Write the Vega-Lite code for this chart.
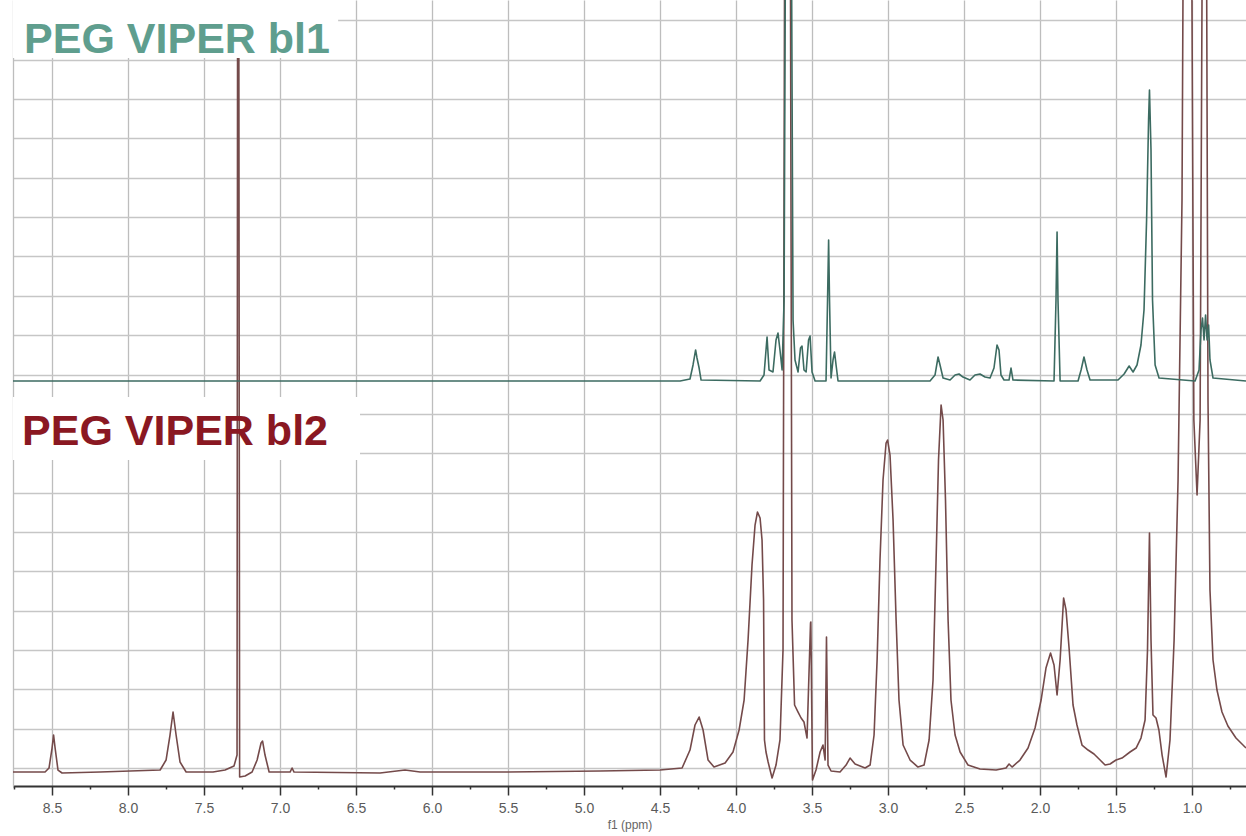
{
  "$schema": "https://vega.github.io/schema/vega-lite/v6.json",
  "width": 1233,
  "height": 786,
  "autosize": {"type": "none"},
  "padding": {"left": 13, "top": 0, "right": 0, "bottom": 50},
  "background": "white",
  "config": {
    "view": {"stroke": null},
    "font": "Liberation Sans",
    "axisX": {
      "titleFont": "Liberation Sans",
      "titleFontSize": 12,
      "titleFontWeight": "normal",
      "titleColor": "#666666",
      "titlePadding": 4,
      "labelOverlap": false,
      "labelFlush": false,
      "labelFont": "Liberation Sans",
      "labelFontSize": 14,
      "labelColor": "#5a5a5a",
      "labelPadding": 6,
      "domainColor": "#333333",
      "domainWidth": 2,
      "tickColor": "#333333",
      "tickWidth": 1.5,
      "grid": true,
      "gridColor": "#bdbdbd",
      "gridWidth": 1.3
    },
    "axisY": {
      "labels": false,
      "ticks": false,
      "domain": true,
      "domainColor": "#bdbdbd",
      "domainWidth": 1.3,
      "grid": true,
      "gridColor": "#c6c6c6",
      "gridWidth": 1.3
    }
  },
  "layer": [
    {
      "data": {"values": [{}]},
      "mark": {"type": "rect", "fill": "white", "clip": true},
      "encoding": {
        "x": {"datum": 8.757, "type": "quantitative", "scale": {"domain": [0.645, 8.757], "reverse": true, "nice": false, "zero": false},
              "axis": {"title": "f1 (ppm)", "values": [0.75, 1.0, 1.25, 1.5, 1.75, 2.0, 2.25, 2.5, 2.75, 3.0, 3.25, 3.5, 3.75, 4.0, 4.25, 4.5, 4.75, 5.0, 5.25, 5.5, 5.75, 6.0, 6.25, 6.5, 6.75, 7.0, 7.25, 7.5, 7.75, 8.0, 8.25, 8.5, 8.75],
                       "labelExpr": "abs(datum.value*2 - round(datum.value*2)) < 0.001 ? format(datum.value, '.1f') : ''",
                       "tickSize": {"condition": {"test": "abs(datum.value*2 - round(datum.value*2)) < 0.001", "value": 9}, "value": 3},
                       "gridOpacity": {"condition": {"test": "abs(datum.value*2 - round(datum.value*2)) < 0.001", "value": 1}, "value": 0}}},
        "x2": {"datum": 6.474},
        "y": {"datum": 9.428, "type": "quantitative", "scale": {"domain": [-0.457, 19.517], "nice": false, "zero": false},
              "axis": {"title": null, "values": [0, 1, 2, 3, 4, 5, 6, 7, 8, 9, 10, 11, 12, 13, 14, 15, 16, 17, 18, 19]}},
        "y2": {"datum": 7.827}
      }
    },
    {
      "data": {"values": [
        {"s": "bl2", "ppm": 8.757, "i": -0.102},
        {"s": "bl2", "ppm": 8.546, "i": -0.102},
        {"s": "bl2", "ppm": 8.520, "i": 0.0},
        {"s": "bl2", "ppm": 8.500, "i": 0.508},
        {"s": "bl2", "ppm": 8.490, "i": 0.839},
        {"s": "bl2", "ppm": 8.480, "i": 0.508},
        {"s": "bl2", "ppm": 8.461, "i": -0.051},
        {"s": "bl2", "ppm": 8.434, "i": -0.127},
        {"s": "bl2", "ppm": 8.184, "i": -0.102},
        {"s": "bl2", "ppm": 7.789, "i": -0.051},
        {"s": "bl2", "ppm": 7.750, "i": 0.203},
        {"s": "bl2", "ppm": 7.724, "i": 0.839},
        {"s": "bl2", "ppm": 7.704, "i": 1.423},
        {"s": "bl2", "ppm": 7.684, "i": 0.839},
        {"s": "bl2", "ppm": 7.658, "i": 0.152},
        {"s": "bl2", "ppm": 7.618, "i": -0.102},
        {"s": "bl2", "ppm": 7.441, "i": -0.102},
        {"s": "bl2", "ppm": 7.362, "i": -0.051},
        {"s": "bl2", "ppm": 7.303, "i": 0.051},
        {"s": "bl2", "ppm": 7.283, "i": 0.330},
        {"s": "bl2", "ppm": 7.2783, "i": 25},
        {"s": "bl2", "ppm": 7.2730, "i": 25},
        {"s": "bl2", "ppm": 7.266, "i": -0.229},
        {"s": "bl2", "ppm": 7.230, "i": -0.203},
        {"s": "bl2", "ppm": 7.184, "i": -0.102},
        {"s": "bl2", "ppm": 7.151, "i": 0.203},
        {"s": "bl2", "ppm": 7.125, "i": 0.635},
        {"s": "bl2", "ppm": 7.115, "i": 0.686},
        {"s": "bl2", "ppm": 7.099, "i": 0.330},
        {"s": "bl2", "ppm": 7.072, "i": -0.102},
        {"s": "bl2", "ppm": 6.934, "i": -0.102},
        {"s": "bl2", "ppm": 6.921, "i": 0.0},
        {"s": "bl2", "ppm": 6.908, "i": -0.102},
        {"s": "bl2", "ppm": 6.342, "i": -0.127},
        {"s": "bl2", "ppm": 6.178, "i": -0.051},
        {"s": "bl2", "ppm": 6.079, "i": -0.102},
        {"s": "bl2", "ppm": 5.553, "i": -0.102},
        {"s": "bl2", "ppm": 4.895, "i": -0.076},
        {"s": "bl2", "ppm": 4.500, "i": -0.051},
        {"s": "bl2", "ppm": 4.355, "i": 0.0},
        {"s": "bl2", "ppm": 4.303, "i": 0.457},
        {"s": "bl2", "ppm": 4.270, "i": 1.093},
        {"s": "bl2", "ppm": 4.243, "i": 1.296},
        {"s": "bl2", "ppm": 4.217, "i": 0.966},
        {"s": "bl2", "ppm": 4.184, "i": 0.203},
        {"s": "bl2", "ppm": 4.145, "i": 0.025},
        {"s": "bl2", "ppm": 4.072, "i": 0.127},
        {"s": "bl2", "ppm": 4.020, "i": 0.407},
        {"s": "bl2", "ppm": 3.980, "i": 0.966},
        {"s": "bl2", "ppm": 3.947, "i": 1.728},
        {"s": "bl2", "ppm": 3.921, "i": 3.253},
        {"s": "bl2", "ppm": 3.895, "i": 5.159},
        {"s": "bl2", "ppm": 3.875, "i": 6.175},
        {"s": "bl2", "ppm": 3.859, "i": 6.506},
        {"s": "bl2", "ppm": 3.842, "i": 6.353},
        {"s": "bl2", "ppm": 3.829, "i": 5.794},
        {"s": "bl2", "ppm": 3.819, "i": 4.269},
        {"s": "bl2", "ppm": 3.813, "i": 0.712},
        {"s": "bl2", "ppm": 3.803, "i": 0.407},
        {"s": "bl2", "ppm": 3.789, "i": 0.152},
        {"s": "bl2", "ppm": 3.763, "i": -0.254},
        {"s": "bl2", "ppm": 3.737, "i": 0.076},
        {"s": "bl2", "ppm": 3.711, "i": 0.712},
        {"s": "bl2", "ppm": 3.691, "i": 2.999},
        {"s": "bl2", "ppm": 3.678, "i": 25},
        {"s": "bl2", "ppm": 3.645, "i": 25},
        {"s": "bl2", "ppm": 3.632, "i": 3.761},
        {"s": "bl2", "ppm": 3.615, "i": 1.601},
        {"s": "bl2", "ppm": 3.592, "i": 1.423},
        {"s": "bl2", "ppm": 3.572, "i": 1.271},
        {"s": "bl2", "ppm": 3.553, "i": 1.169},
        {"s": "bl2", "ppm": 3.533, "i": 0.762},
        {"s": "bl2", "ppm": 3.510, "i": 3.685},
        {"s": "bl2", "ppm": 3.508, "i": 3.710},
        {"s": "bl2", "ppm": 3.497, "i": -0.305},
        {"s": "bl2", "ppm": 3.474, "i": -0.051},
        {"s": "bl2", "ppm": 3.447, "i": 0.407},
        {"s": "bl2", "ppm": 3.428, "i": 0.584},
        {"s": "bl2", "ppm": 3.414, "i": 0.203},
        {"s": "bl2", "ppm": 3.405, "i": 3.329},
        {"s": "bl2", "ppm": 3.395, "i": 0.076},
        {"s": "bl2", "ppm": 3.375, "i": -0.076},
        {"s": "bl2", "ppm": 3.316, "i": -0.102},
        {"s": "bl2", "ppm": 3.276, "i": 0.076},
        {"s": "bl2", "ppm": 3.250, "i": 0.254},
        {"s": "bl2", "ppm": 3.217, "i": 0.102},
        {"s": "bl2", "ppm": 3.151, "i": 0.0},
        {"s": "bl2", "ppm": 3.118, "i": 0.076},
        {"s": "bl2", "ppm": 3.092, "i": 0.839},
        {"s": "bl2", "ppm": 3.072, "i": 2.745},
        {"s": "bl2", "ppm": 3.053, "i": 5.286},
        {"s": "bl2", "ppm": 3.033, "i": 7.319},
        {"s": "bl2", "ppm": 3.013, "i": 8.259},
        {"s": "bl2", "ppm": 3.003, "i": 8.335},
        {"s": "bl2", "ppm": 2.987, "i": 7.954},
        {"s": "bl2", "ppm": 2.967, "i": 6.302},
        {"s": "bl2", "ppm": 2.947, "i": 3.761},
        {"s": "bl2", "ppm": 2.928, "i": 1.728},
        {"s": "bl2", "ppm": 2.901, "i": 0.584},
        {"s": "bl2", "ppm": 2.855, "i": 0.203},
        {"s": "bl2", "ppm": 2.803, "i": 0.025},
        {"s": "bl2", "ppm": 2.763, "i": 0.076},
        {"s": "bl2", "ppm": 2.730, "i": 0.712},
        {"s": "bl2", "ppm": 2.704, "i": 2.236},
        {"s": "bl2", "ppm": 2.684, "i": 5.286},
        {"s": "bl2", "ppm": 2.668, "i": 7.827},
        {"s": "bl2", "ppm": 2.651, "i": 9.225},
        {"s": "bl2", "ppm": 2.638, "i": 8.844},
        {"s": "bl2", "ppm": 2.622, "i": 6.811},
        {"s": "bl2", "ppm": 2.605, "i": 3.761},
        {"s": "bl2", "ppm": 2.586, "i": 1.728},
        {"s": "bl2", "ppm": 2.559, "i": 0.839},
        {"s": "bl2", "ppm": 2.526, "i": 0.407},
        {"s": "bl2", "ppm": 2.474, "i": 0.076},
        {"s": "bl2", "ppm": 2.395, "i": -0.025},
        {"s": "bl2", "ppm": 2.289, "i": -0.051},
        {"s": "bl2", "ppm": 2.224, "i": 0.0},
        {"s": "bl2", "ppm": 2.204, "i": 0.102},
        {"s": "bl2", "ppm": 2.184, "i": 0.025},
        {"s": "bl2", "ppm": 2.132, "i": 0.203},
        {"s": "bl2", "ppm": 2.079, "i": 0.508},
        {"s": "bl2", "ppm": 2.033, "i": 1.017},
        {"s": "bl2", "ppm": 1.993, "i": 1.728},
        {"s": "bl2", "ppm": 1.961, "i": 2.541},
        {"s": "bl2", "ppm": 1.931, "i": 2.922},
        {"s": "bl2", "ppm": 1.908, "i": 2.618},
        {"s": "bl2", "ppm": 1.888, "i": 1.855},
        {"s": "bl2", "ppm": 1.868, "i": 2.745},
        {"s": "bl2", "ppm": 1.845, "i": 4.320},
        {"s": "bl2", "ppm": 1.829, "i": 4.015},
        {"s": "bl2", "ppm": 1.809, "i": 3.050},
        {"s": "bl2", "ppm": 1.783, "i": 1.601},
        {"s": "bl2", "ppm": 1.757, "i": 1.093},
        {"s": "bl2", "ppm": 1.724, "i": 0.584},
        {"s": "bl2", "ppm": 1.684, "i": 0.457},
        {"s": "bl2", "ppm": 1.645, "i": 0.356},
        {"s": "bl2", "ppm": 1.605, "i": 0.203},
        {"s": "bl2", "ppm": 1.572, "i": 0.076},
        {"s": "bl2", "ppm": 1.539, "i": 0.102},
        {"s": "bl2", "ppm": 1.500, "i": 0.203},
        {"s": "bl2", "ppm": 1.461, "i": 0.254},
        {"s": "bl2", "ppm": 1.408, "i": 0.407},
        {"s": "bl2", "ppm": 1.368, "i": 0.508},
        {"s": "bl2", "ppm": 1.336, "i": 0.762},
        {"s": "bl2", "ppm": 1.309, "i": 1.220},
        {"s": "bl2", "ppm": 1.293, "i": 2.999},
        {"s": "bl2", "ppm": 1.280, "i": 5.972},
        {"s": "bl2", "ppm": 1.270, "i": 3.253},
        {"s": "bl2", "ppm": 1.257, "i": 1.347},
        {"s": "bl2", "ppm": 1.237, "i": 1.271},
        {"s": "bl2", "ppm": 1.218, "i": 0.966},
        {"s": "bl2", "ppm": 1.197, "i": 0.330},
        {"s": "bl2", "ppm": 1.171, "i": -0.229},
        {"s": "bl2", "ppm": 1.145, "i": 0.712},
        {"s": "bl2", "ppm": 1.118, "i": 3.253},
        {"s": "bl2", "ppm": 1.092, "i": 7.319},
        {"s": "bl2", "ppm": 1.066, "i": 14.434},
        {"s": "bl2", "ppm": 1.053, "i": 25},
        {"s": "bl2", "ppm": 1.007, "i": 25},
        {"s": "bl2", "ppm": 0.988, "i": 8.844},
        {"s": "bl2", "ppm": 0.967, "i": 6.938},
        {"s": "bl2", "ppm": 0.947, "i": 8.844},
        {"s": "bl2", "ppm": 0.928, "i": 25},
        {"s": "bl2", "ppm": 0.908, "i": 25},
        {"s": "bl2", "ppm": 0.895, "i": 9.352},
        {"s": "bl2", "ppm": 0.882, "i": 4.523},
        {"s": "bl2", "ppm": 0.862, "i": 2.745},
        {"s": "bl2", "ppm": 0.836, "i": 1.982},
        {"s": "bl2", "ppm": 0.803, "i": 1.423},
        {"s": "bl2", "ppm": 0.764, "i": 1.067},
        {"s": "bl2", "ppm": 0.711, "i": 0.762},
        {"s": "bl2", "ppm": 0.645, "i": 0.508},

        {"s": "bl1", "ppm": 8.757, "i": 9.835},
        {"s": "bl1", "ppm": 4.368, "i": 9.835},
        {"s": "bl1", "ppm": 4.303, "i": 9.886},
        {"s": "bl1", "ppm": 4.283, "i": 10.242},
        {"s": "bl1", "ppm": 4.266, "i": 10.623},
        {"s": "bl1", "ppm": 4.257, "i": 10.420},
        {"s": "bl1", "ppm": 4.243, "i": 10.165},
        {"s": "bl1", "ppm": 4.230, "i": 9.860},
        {"s": "bl1", "ppm": 3.842, "i": 9.835},
        {"s": "bl1", "ppm": 3.816, "i": 9.987},
        {"s": "bl1", "ppm": 3.796, "i": 10.953},
        {"s": "bl1", "ppm": 3.783, "i": 10.114},
        {"s": "bl1", "ppm": 3.757, "i": 10.064},
        {"s": "bl1", "ppm": 3.737, "i": 10.877},
        {"s": "bl1", "ppm": 3.724, "i": 11.055},
        {"s": "bl1", "ppm": 3.711, "i": 10.623},
        {"s": "bl1", "ppm": 3.697, "i": 10.114},
        {"s": "bl1", "ppm": 3.684, "i": 11.893},
        {"s": "bl1", "ppm": 3.671, "i": 25},
        {"s": "bl1", "ppm": 3.640, "i": 25},
        {"s": "bl1", "ppm": 3.625, "i": 11.385},
        {"s": "bl1", "ppm": 3.612, "i": 10.369},
        {"s": "bl1", "ppm": 3.592, "i": 10.064},
        {"s": "bl1", "ppm": 3.576, "i": 10.674},
        {"s": "bl1", "ppm": 3.566, "i": 10.724},
        {"s": "bl1", "ppm": 3.553, "i": 10.114},
        {"s": "bl1", "ppm": 3.539, "i": 10.064},
        {"s": "bl1", "ppm": 3.523, "i": 10.877},
        {"s": "bl1", "ppm": 3.513, "i": 10.979},
        {"s": "bl1", "ppm": 3.500, "i": 10.064},
        {"s": "bl1", "ppm": 3.480, "i": 9.835},
        {"s": "bl1", "ppm": 3.408, "i": 9.835},
        {"s": "bl1", "ppm": 3.398, "i": 11.893},
        {"s": "bl1", "ppm": 3.391, "i": 13.418},
        {"s": "bl1", "ppm": 3.385, "i": 11.893},
        {"s": "bl1", "ppm": 3.375, "i": 9.911},
        {"s": "bl1", "ppm": 3.362, "i": 10.369},
        {"s": "bl1", "ppm": 3.352, "i": 10.572},
        {"s": "bl1", "ppm": 3.342, "i": 10.242},
        {"s": "bl1", "ppm": 3.329, "i": 9.835},
        {"s": "bl1", "ppm": 2.724, "i": 9.835},
        {"s": "bl1", "ppm": 2.691, "i": 9.987},
        {"s": "bl1", "ppm": 2.671, "i": 10.445},
        {"s": "bl1", "ppm": 2.658, "i": 10.242},
        {"s": "bl1", "ppm": 2.638, "i": 9.911},
        {"s": "bl1", "ppm": 2.592, "i": 9.860},
        {"s": "bl1", "ppm": 2.559, "i": 9.987},
        {"s": "bl1", "ppm": 2.533, "i": 10.013},
        {"s": "bl1", "ppm": 2.507, "i": 9.936},
        {"s": "bl1", "ppm": 2.461, "i": 9.860},
        {"s": "bl1", "ppm": 2.428, "i": 9.987},
        {"s": "bl1", "ppm": 2.395, "i": 10.013},
        {"s": "bl1", "ppm": 2.362, "i": 9.936},
        {"s": "bl1", "ppm": 2.329, "i": 9.911},
        {"s": "bl1", "ppm": 2.303, "i": 10.165},
        {"s": "bl1", "ppm": 2.283, "i": 10.750},
        {"s": "bl1", "ppm": 2.270, "i": 10.623},
        {"s": "bl1", "ppm": 2.257, "i": 9.987},
        {"s": "bl1", "ppm": 2.237, "i": 9.860},
        {"s": "bl1", "ppm": 2.204, "i": 9.860},
        {"s": "bl1", "ppm": 2.191, "i": 10.165},
        {"s": "bl1", "ppm": 2.178, "i": 9.860},
        {"s": "bl1", "ppm": 1.908, "i": 9.835},
        {"s": "bl1", "ppm": 1.895, "i": 11.893},
        {"s": "bl1", "ppm": 1.888, "i": 13.621},
        {"s": "bl1", "ppm": 1.882, "i": 11.893},
        {"s": "bl1", "ppm": 1.868, "i": 9.835},
        {"s": "bl1", "ppm": 1.750, "i": 9.835},
        {"s": "bl1", "ppm": 1.730, "i": 10.114},
        {"s": "bl1", "ppm": 1.711, "i": 10.445},
        {"s": "bl1", "ppm": 1.691, "i": 10.114},
        {"s": "bl1", "ppm": 1.671, "i": 9.860},
        {"s": "bl1", "ppm": 1.487, "i": 9.860},
        {"s": "bl1", "ppm": 1.447, "i": 10.013},
        {"s": "bl1", "ppm": 1.414, "i": 10.216},
        {"s": "bl1", "ppm": 1.388, "i": 10.064},
        {"s": "bl1", "ppm": 1.362, "i": 10.242},
        {"s": "bl1", "ppm": 1.336, "i": 10.750},
        {"s": "bl1", "ppm": 1.316, "i": 11.639},
        {"s": "bl1", "ppm": 1.299, "i": 13.926},
        {"s": "bl1", "ppm": 1.286, "i": 16.468},
        {"s": "bl1", "ppm": 1.280, "i": 17.230},
        {"s": "bl1", "ppm": 1.270, "i": 15.705},
        {"s": "bl1", "ppm": 1.260, "i": 11.893},
        {"s": "bl1", "ppm": 1.243, "i": 10.242},
        {"s": "bl1", "ppm": 1.217, "i": 9.911},
        {"s": "bl1", "ppm": 0.980, "i": 9.835},
        {"s": "bl1", "ppm": 0.954, "i": 10.114},
        {"s": "bl1", "ppm": 0.941, "i": 11.131},
        {"s": "bl1", "ppm": 0.931, "i": 11.436},
        {"s": "bl1", "ppm": 0.921, "i": 10.877},
        {"s": "bl1", "ppm": 0.911, "i": 11.512},
        {"s": "bl1", "ppm": 0.901, "i": 10.877},
        {"s": "bl1", "ppm": 0.891, "i": 11.258},
        {"s": "bl1", "ppm": 0.882, "i": 10.369},
        {"s": "bl1", "ppm": 0.862, "i": 9.911},
        {"s": "bl1", "ppm": 0.645, "i": 9.835}
      ]},
      "mark": {"type": "line", "clip": true, "strokeWidth": 1.6, "strokeJoin": "round"},
      "encoding": {
        "x": {"field": "ppm", "type": "quantitative", "scale": {"domain": [0.645, 8.757], "reverse": true, "nice": false, "zero": false},
              "axis": {"title": "f1 (ppm)", "values": [0.75, 1.0, 1.25, 1.5, 1.75, 2.0, 2.25, 2.5, 2.75, 3.0, 3.25, 3.5, 3.75, 4.0, 4.25, 4.5, 4.75, 5.0, 5.25, 5.5, 5.75, 6.0, 6.25, 6.5, 6.75, 7.0, 7.25, 7.5, 7.75, 8.0, 8.25, 8.5, 8.75],
                       "labelExpr": "abs(datum.value*2 - round(datum.value*2)) < 0.001 ? format(datum.value, '.1f') : ''",
                       "tickSize": {"condition": {"test": "abs(datum.value*2 - round(datum.value*2)) < 0.001", "value": 9}, "value": 3},
                       "gridOpacity": {"condition": {"test": "abs(datum.value*2 - round(datum.value*2)) < 0.001", "value": 1}, "value": 0}}},
        "y": {"field": "i", "type": "quantitative", "scale": {"domain": [-0.457, 19.517], "nice": false, "zero": false},
              "axis": {"title": null, "values": [0, 1, 2, 3, 4, 5, 6, 7, 8, 9, 10, 11, 12, 13, 14, 15, 16, 17, 18, 19]}},
        "color": {
          "field": "s", "type": "nominal",
          "scale": {"domain": ["bl1", "bl2"], "range": ["#3c6b61", "#744a4a"]},
          "legend": null
        }
      }
    },
    {
      "data": {"values": [{}]},
      "mark": {"type": "text", "text": "PEG VIPER bl2", "align": "left", "baseline": "alphabetic", "font": "Liberation Sans", "fontWeight": "bold", "fontSize": 43, "color": "#8a1822"},
      "encoding": {
        "x": {"datum": 8.697, "type": "quantitative", "scale": {"domain": [0.645, 8.757], "reverse": true, "nice": false, "zero": false},
              "axis": {"title": "f1 (ppm)", "values": [0.75, 1.0, 1.25, 1.5, 1.75, 2.0, 2.25, 2.5, 2.75, 3.0, 3.25, 3.5, 3.75, 4.0, 4.25, 4.5, 4.75, 5.0, 5.25, 5.5, 5.75, 6.0, 6.25, 6.5, 6.75, 7.0, 7.25, 7.5, 7.75, 8.0, 8.25, 8.5, 8.75],
                       "labelExpr": "abs(datum.value*2 - round(datum.value*2)) < 0.001 ? format(datum.value, '.1f') : ''",
                       "tickSize": {"condition": {"test": "abs(datum.value*2 - round(datum.value*2)) < 0.001", "value": 9}, "value": 3},
                       "gridOpacity": {"condition": {"test": "abs(datum.value*2 - round(datum.value*2)) < 0.001", "value": 1}, "value": 0}}},
        "y": {"datum": 8.208, "type": "quantitative", "scale": {"domain": [-0.457, 19.517], "nice": false, "zero": false},
              "axis": {"title": null, "values": [0, 1, 2, 3, 4, 5, 6, 7, 8, 9, 10, 11, 12, 13, 14, 15, 16, 17, 18, 19]}}
      }
    },
    {
      "data": {"values": [{}]},
      "mark": {"type": "rect", "fill": "white", "clip": true},
      "encoding": {
        "x": {"datum": 8.757, "type": "quantitative", "scale": {"domain": [0.645, 8.757], "reverse": true, "nice": false, "zero": false},
              "axis": {"title": "f1 (ppm)", "values": [0.75, 1.0, 1.25, 1.5, 1.75, 2.0, 2.25, 2.5, 2.75, 3.0, 3.25, 3.5, 3.75, 4.0, 4.25, 4.5, 4.75, 5.0, 5.25, 5.5, 5.75, 6.0, 6.25, 6.5, 6.75, 7.0, 7.25, 7.5, 7.75, 8.0, 8.25, 8.5, 8.75],
                       "labelExpr": "abs(datum.value*2 - round(datum.value*2)) < 0.001 ? format(datum.value, '.1f') : ''",
                       "tickSize": {"condition": {"test": "abs(datum.value*2 - round(datum.value*2)) < 0.001", "value": 9}, "value": 3},
                       "gridOpacity": {"condition": {"test": "abs(datum.value*2 - round(datum.value*2)) < 0.001", "value": 1}, "value": 0}}},
        "x2": {"datum": 6.618},
        "y": {"datum": 19.517, "type": "quantitative", "scale": {"domain": [-0.457, 19.517], "nice": false, "zero": false},
              "axis": {"title": null, "values": [0, 1, 2, 3, 4, 5, 6, 7, 8, 9, 10, 11, 12, 13, 14, 15, 16, 17, 18, 19]}},
        "y2": {"datum": 18.04}
      }
    },
    {
      "data": {"values": [{}]},
      "mark": {"type": "text", "text": "PEG VIPER bl1", "align": "left", "baseline": "alphabetic", "font": "Liberation Sans", "fontWeight": "bold", "fontSize": 43, "color": "#5f9e8e"},
      "encoding": {
        "x": {"datum": 8.684, "type": "quantitative", "scale": {"domain": [0.645, 8.757], "reverse": true, "nice": false, "zero": false},
              "axis": {"title": "f1 (ppm)", "values": [0.75, 1.0, 1.25, 1.5, 1.75, 2.0, 2.25, 2.5, 2.75, 3.0, 3.25, 3.5, 3.75, 4.0, 4.25, 4.5, 4.75, 5.0, 5.25, 5.5, 5.75, 6.0, 6.25, 6.5, 6.75, 7.0, 7.25, 7.5, 7.75, 8.0, 8.25, 8.5, 8.75],
                       "labelExpr": "abs(datum.value*2 - round(datum.value*2)) < 0.001 ? format(datum.value, '.1f') : ''",
                       "tickSize": {"condition": {"test": "abs(datum.value*2 - round(datum.value*2)) < 0.001", "value": 9}, "value": 3},
                       "gridOpacity": {"condition": {"test": "abs(datum.value*2 - round(datum.value*2)) < 0.001", "value": 1}, "value": 0}}},
        "y": {"datum": 18.17, "type": "quantitative", "scale": {"domain": [-0.457, 19.517], "nice": false, "zero": false},
              "axis": {"title": null, "values": [0, 1, 2, 3, 4, 5, 6, 7, 8, 9, 10, 11, 12, 13, 14, 15, 16, 17, 18, 19]}}
      }
    }
  ]
}
